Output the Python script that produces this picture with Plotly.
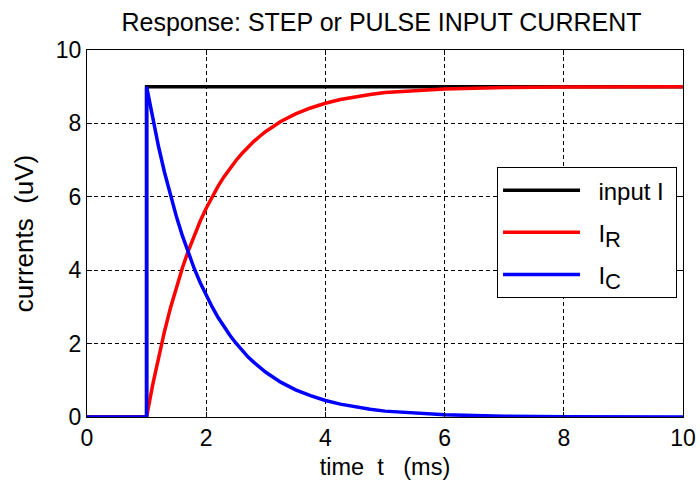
import plotly.graph_objects as go

# input step current
t_input = [0, 1, 1, 10]
i_input = [0, 0, 9, 9]

# response sample times (ms)
t_resp = [0, 1,
          1.0, 1.1, 1.2, 1.3, 1.4, 1.5, 1.6, 1.7, 1.8, 1.9, 2.0,
          2.1, 2.2, 2.3, 2.4, 2.5, 2.6, 2.7, 2.8, 2.9, 3.0,
          3.25, 3.5, 3.75, 4.0, 4.25, 4.5, 4.75, 5.0, 5.5, 6.0, 6.5, 7.0, 8.0, 9.0, 10.0]
i_r = [0, 0,
       0.00, 0.86, 1.63, 2.33, 2.97, 3.54, 4.06, 4.53, 4.96, 5.34, 5.69,
       6.00, 6.29, 6.55, 6.78, 6.99, 7.18, 7.36, 7.51, 7.65, 7.78,
       8.05, 8.26, 8.42, 8.55, 8.65, 8.73, 8.79, 8.84, 8.90, 8.94, 8.96, 8.98, 8.99, 9.00, 9.00]
i_c = [0, 0,
       9.00, 8.14, 7.37, 6.67, 6.03, 5.46, 4.94, 4.47, 4.04, 3.66, 3.31,
       3.00, 2.71, 2.45, 2.22, 2.01, 1.82, 1.64, 1.49, 1.35, 1.22,
       0.95, 0.74, 0.58, 0.45, 0.35, 0.27, 0.21, 0.16, 0.10, 0.06, 0.04, 0.02, 0.01, 0.00, 0.00]

x_ticks = [0, 2, 4, 6, 8, 10]
y_ticks = [0, 2, 4, 6, 8, 10]

FONT = "Liberation Sans, Arial, sans-serif"
SUB = "<sub><span style='font-size:22px'>{}</span></sub>"
NB = "\u00a0"

fig = go.Figure()
fig.add_trace(go.Scatter(x=t_input, y=i_input, mode="lines", name=NB * 2 + "input I" + NB,
                         legendgroup="a",
                         line=dict(color="#000000", width=3.5), cliponaxis=False))
fig.add_trace(go.Scatter(x=t_resp, y=i_r, mode="lines", name=NB * 2 + "I" + SUB.format("R"),
                         legendgroup="b",
                         line=dict(color="#ff0000", width=3.5), cliponaxis=False))
fig.add_trace(go.Scatter(x=t_resp, y=i_c, mode="lines", name=NB * 2 + "I" + SUB.format("C"),
                         legendgroup="c",
                         line=dict(color="#0000ff", width=3.5), cliponaxis=False))

axis_common = dict(
    showline=True, linecolor="black", linewidth=1, mirror="allticks",
    ticks="inside", ticklen=5, tickcolor="black", tickwidth=1,
    showgrid=True, gridcolor="black", gridwidth=1, griddash="4px,3px",
    zeroline=False, automargin=False,
    tickfont=dict(family=FONT, size=23, color="black"),
)

fig.update_xaxes(range=[0, 10], tickvals=x_ticks,
                 title=dict(text="time  t   (ms)", font=dict(family=FONT, size=23.5, color="black"), standoff=8),
                 **axis_common)
fig.update_yaxes(range=[0, 10], tickvals=y_ticks,
                 title=dict(text="currents  (uV)", font=dict(family=FONT, size=26, color="black"), standoff=14),
                 **axis_common)

fig.update_layout(
    width=700, height=484,
    margin=dict(l=87, r=17, t=50, b=67, autoexpand=False),
    paper_bgcolor="white", plot_bgcolor="white",
    title=dict(text="Response: STEP or PULSE INPUT CURRENT", x=0.545, xanchor="center",
               xref="container", y=0.955, yref="container", yanchor="middle",
               font=dict(family=FONT, size=25, color="black")),
    legend=dict(x=0.688, y=0.681, xanchor="left", yanchor="top",
                bgcolor="white", bordercolor="black", borderwidth=1,
                font=dict(family=FONT, size=24, color="black"),
                itemwidth=77, tracegroupgap=8),
    showlegend=True,
)

fig.write_html("out.html", config={"displayModeBar": False},
               post_script="document.body.style.margin='0px';")
